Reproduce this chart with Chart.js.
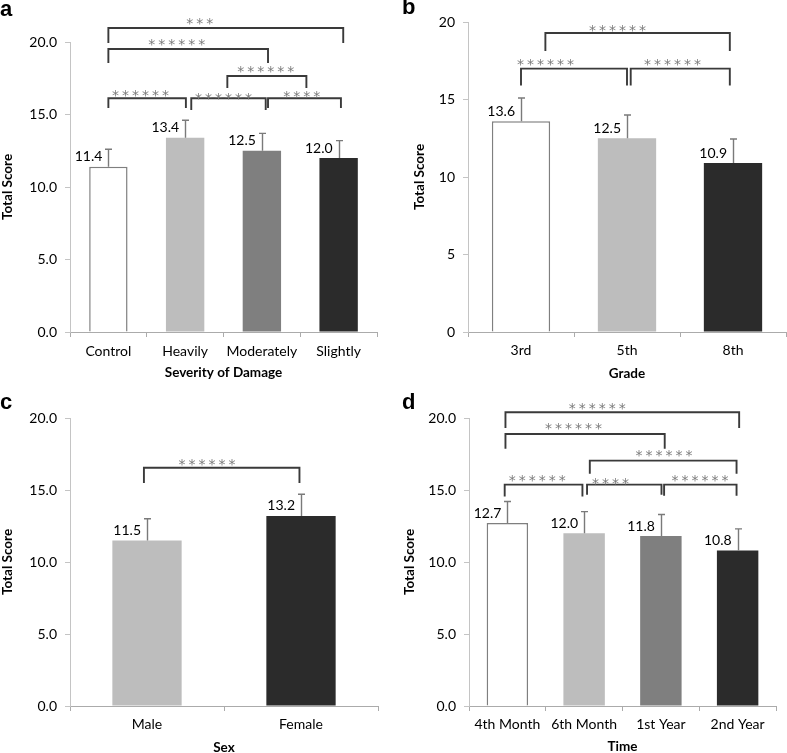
<!DOCTYPE html>
<html><head><meta charset="utf-8">
<script src="https://cdn.jsdelivr.net/npm/chart.js@4"></script>
<style>
html,body{margin:0;padding:0;width:787px;height:753px;overflow:hidden;background:#fff;}
canvas{position:absolute;}
.lbl{position:absolute;font:bold 22px "Liberation Sans",Arial,sans-serif;line-height:22px;color:#000;}
</style></head><body>
<canvas id="ca"></canvas>
<canvas id="cb"></canvas>
<canvas id="cc"></canvas>
<canvas id="cd"></canvas>
<div class="lbl" style="left:0px;top:-2px">a</div>
<div class="lbl" style="left:402px;top:-4px">b</div>
<div class="lbl" style="left:0px;top:391px">c</div>
<div class="lbl" style="left:402px;top:391px">d</div>
<script>
// ---------- Panel a: severity of damage ----------
const severityCategories = ['Control', 'Heavily', 'Moderately', 'Slightly'];
const severityMeans = [11.4, 13.4, 12.5, 12.0];
const severityErrors = [1.2, 1.2, 1.2, 1.2];
const severityTicks = ['0.0', '5.0', '10.0', '15.0', '20.0'];
// significance brackets: [from, to, level, leftEnd, rightEnd, stars, starsAt, starsLevel]
const severityBrackets = [
  [0.0, 3.06, 20.97, 19.93, 19.93, '***', 1.19, 21.4],
  [0.0, 2.08, 19.52, 18.55, 18.55, '******', 0.89, 20.0],
  [1.55, 2.58, 17.66, 16.83, 16.83, '******', 2.05, 18.07],
  [0.0, 1.01, 16.12, 15.45, 15.45, '******', 0.42, 16.48],
  [1.08, 2.05, 16.12, 15.31, 15.31, '******', 1.50, 16.23],
  [2.08, 3.03, 16.12, 15.45, 15.45, '****', 2.52, 16.39]
];

// ---------- Panel b: grade ----------
const gradeCategories = ['3rd', '5th', '8th'];
const gradeMeans = [13.6, 12.5, 10.9];
const gradeErrors = [1.5, 1.5, 1.55];
const gradeTicks = ['0', '5', '10', '15', '20'];
const gradeBrackets = [
  [0.23, 1.97, 19.29, 18.13, 18.13, '******', 0.91, 19.57],
  [0.0, 1.0, 16.99, 15.91, 15.91, '******', 0.23, 17.37],
  [1.035, 1.97, 16.99, 15.91, 15.91, '******', 1.43, 17.37]
];

// ---------- Panel c: sex ----------
const sexCategories = ['Male', 'Female'];
const sexMeans = [11.5, 13.2];
const sexErrors = [1.5, 1.5];
const sexTicks = ['0.0', '5.0', '10.0', '15.0', '20.0'];
const sexBrackets = [
  [-0.02, 0.99, 16.55, 15.49, 15.49, '******', 0.39, 16.88]
];

// ---------- Panel d: time ----------
const timeCategories = ['4th Month', '6th Month', '1st Year', '2nd Year'];
const timeMeans = [12.7, 12.0, 11.8, 10.8];
const timeErrors = [1.5, 1.5, 1.5, 1.5];
const timeTicks = ['0.0', '5.0', '10.0', '15.0', '20.0'];
const timeBrackets = [
  [-0.025, 3.02, 20.4, 19.31, 19.31, '******', 1.17, 20.79],
  [-0.025, 2.05, 18.89, 17.87, 17.87, '******', 0.86, 19.42],
  [1.074, 2.986, 17.04, 16.13, 16.13, '******', 2.04, 17.52],
  [-0.035, 0.978, 15.37, 14.55, 14.55, '******', 0.39, 15.83],
  [1.038, 2.008, 15.37, 14.67, 14.67, '****', 1.345, 15.6],
  [2.042, 2.986, 15.37, 14.6, 14.6, '******', 2.51, 15.83]
];

const WHITE = '#ffffff', LIGHT = '#bdbdbd', MID = '#7f7f7f', DARK = '#2b2b2b';

Chart.defaults.font.family = 'Lato, "Open Sans", sans-serif';
Chart.defaults.color = '#000';

const annotPlugin = {
  id: 'annot',
  afterDatasetsDraw(chart) {
    const ctx = chart.ctx;
    const xs = chart.scales.x, ys = chart.scales.y;
    const o = chart.options.plugins.annot;
    const ds = chart.data.datasets[0];
    const meta = chart.getDatasetMeta(0);
    ctx.save();
    // error bars
    ctx.strokeStyle = '#7a7a7a';
    ctx.lineWidth = 1.4;
    meta.data.forEach((bar, i) => {
      const v = ds.data[i], e = o.errors[i];
      const y0 = ys.getPixelForValue(v), y1 = ys.getPixelForValue(v + e);
      const x = Math.round(bar.x) + 0.5;
      ctx.beginPath();
      ctx.moveTo(x, y0); ctx.lineTo(x, y1);
      ctx.moveTo(x - 3.5, y1); ctx.lineTo(x + 3.5, y1);
      ctx.stroke();
    });
    // value labels
    ctx.fillStyle = '#000';
    ctx.font = '14px Lato';
    ctx.textAlign = 'right';
    ctx.textBaseline = 'middle';
    meta.data.forEach((bar, i) => {
      const v = ds.data[i];
      ctx.fillText(v.toFixed(1), bar.x - 6, ys.getPixelForValue(v) - 10);
    });
    // brackets
    ctx.strokeStyle = '#3a3a3a';
    ctx.lineWidth = 1.9;
    ctx.lineCap = 'butt';
    ctx.lineJoin = 'miter';
    ctx.font = '14px "DejaVu Sans"';
    ctx.textAlign = 'center';
    ctx.textBaseline = 'alphabetic';
    const m = ctx.measureText('*');
    const shift = (m.actualBoundingBoxAscent - m.actualBoundingBoxDescent) / 2;
    o.brackets.forEach(b => {
      const [i1, i2, lv, e1, e2, stars, si, sv] = b;
      const x1 = xs.getPixelForValue(i1), x2 = xs.getPixelForValue(i2);
      const yl = ys.getPixelForValue(lv);
      ctx.beginPath();
      ctx.moveTo(x1, ys.getPixelForValue(e1));
      ctx.lineTo(x1, yl);
      ctx.lineTo(x2, yl);
      ctx.lineTo(x2, ys.getPixelForValue(e2));
      ctx.stroke();
      const sx = xs.getPixelForValue(si), sy = ys.getPixelForValue(sv);
      ctx.fillStyle = '#7c7c7c';
      const n = stars.length, pitch = 10;
      for (let k = 0; k < n; k++) {
        ctx.fillText('*', sx + (k - (n - 1) / 2) * pitch, sy + shift);
      }
    });
    ctx.restore();
  }
};

function makePanel(id, box, area, cats, means, errs, tickLabels, brackets, colors, barPct, xTitle, yTitlePad, xTickPad, xTitlePad) {
  const cv = document.getElementById(id);
  cv.style.left = box[0] + 'px';
  cv.style.top = box[1] + 'px';
  cv.width = box[2]; cv.height = box[3];
  cv.style.width = box[2] + 'px'; cv.style.height = box[3] + 'px';
  const yw = area[0] - box[0];
  const xh = box[1] + box[3] - area[3];
  new Chart(cv, {
    type: 'bar',
    data: {
      labels: cats,
      datasets: [{
        data: means,
        backgroundColor: colors,
        borderColor: colors.map(c => c === WHITE ? '#7f7f7f' : c),
        borderWidth: colors.map(c => c === WHITE ? 1.5 : 0),
        barPercentage: barPct,
        categoryPercentage: 1.0
      }]
    },
    options: {
      responsive: false,
      animation: false,
      devicePixelRatio: 1,
      layout: { padding: { left: 0, top: area[1] - box[1], right: box[0] + box[2] - area[2], bottom: 0 } },
      plugins: {
        legend: { display: false },
        tooltip: { enabled: false },
        annot: { errors: errs, brackets: brackets }
      },
      scales: {
        x: {
          offset: true,
          grid: { display: true, drawOnChartArea: false, drawTicks: true, tickLength: 5, color: '#ababab', offset: true },
          border: { display: true, color: '#ababab', width: 1 },
          ticks: { padding: xTickPad, color: '#000', font: { size: 14 } },
          title: { display: true, text: xTitle, color: '#000', font: { size: 13.5, weight: 'bold' }, padding: { top: 0, bottom: xTitlePad } },
          afterFit(s) { s.height = xh; }
        },
        y: {
          min: 0, max: 20,
          ticks: { stepSize: 5, padding: 8, color: '#000', font: { size: 14 },
                   callback: (v, i) => tickLabels[i] },
          grid: { display: true, drawOnChartArea: false, drawTicks: true, tickLength: 5, color: '#c4c4c4' },
          border: { display: true, color: '#c4c4c4', width: 1 },
          title: { display: true, text: 'Total Score', color: '#000', font: { size: 13.5, weight: 'bold' }, padding: { top: yTitlePad, bottom: 0 } },
          afterFit(s) { s.width = yw; }
        }
      }
    },
    plugins: [annotPlugin]
  });
}

makePanel('ca', [0, 0, 392, 388], [70, 42, 377, 332], severityCategories, severityMeans, severityErrors, severityTicks,
  severityBrackets, [WHITE, LIGHT, MID, DARK], 0.5, 'Severity of Damage', 0, 6.5, 7);
makePanel('cb', [392, 0, 395, 388], [468, 22, 786, 332], gradeCategories, gradeMeans, gradeErrors, gradeTicks,
  gradeBrackets, [WHITE, LIGHT, DARK], 0.55, 'Grade', 20, 5.5, 6);
makePanel('cc', [0, 385, 392, 375], [70, 418, 378, 706], sexCategories, sexMeans, sexErrors, sexTicks,
  sexBrackets, [LIGHT, DARK], 0.45, 'Sex', 0, 5.5, 4);
makePanel('cd', [392, 385, 395, 375], [469, 418, 776, 706], timeCategories, timeMeans, timeErrors, timeTicks,
  timeBrackets, [WHITE, LIGHT, MID, DARK], 0.54, 'Time', 10, 5.5, 5);
</script>
</body></html>
